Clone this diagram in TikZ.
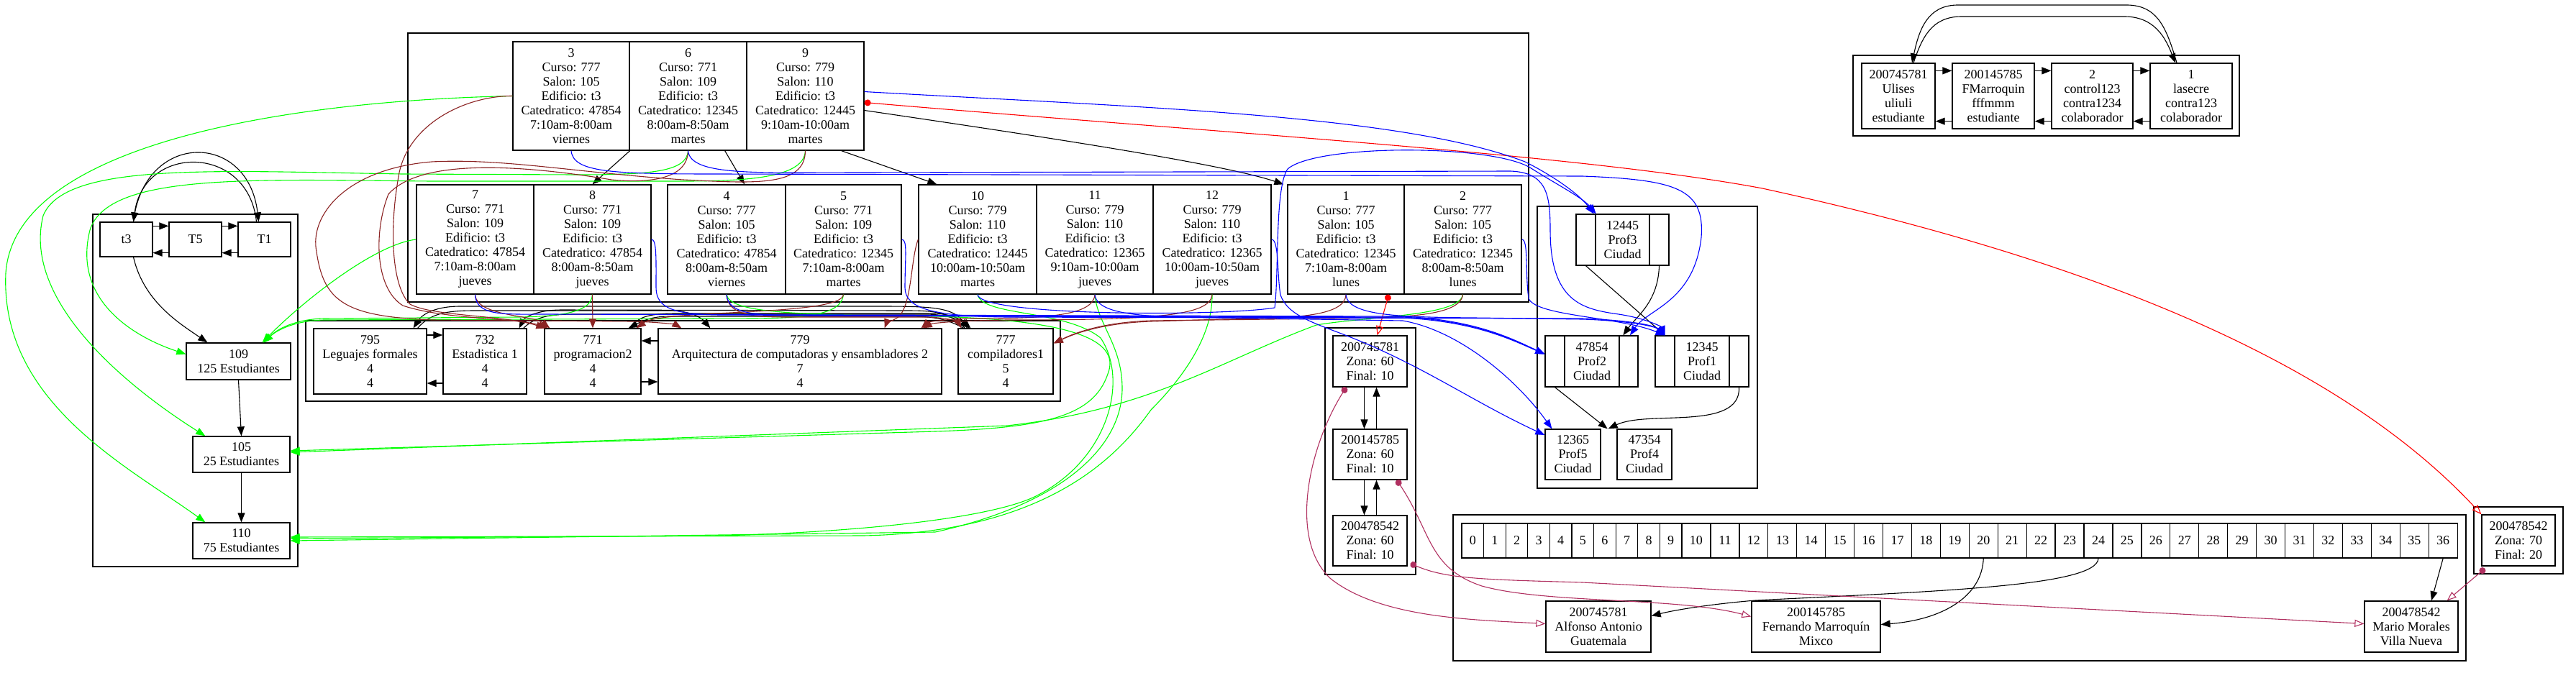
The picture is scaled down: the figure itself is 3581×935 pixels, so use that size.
\documentclass[tikz,border=0pt]{standalone}
\usepackage{fontspec}
\setmainfont{Liberation Serif}
\usetikzlibrary{arrows.meta,calc}
\definecolor{gG}{HTML}{00FF00}
\definecolor{bR}{HTML}{8B2323}
\definecolor{mR}{HTML}{B03060}
\newcommand\nodefont{\fontsize{18}{20}\selectfont}
\newcommand\mybox[6]{\node[box, minimum width={(#4)-(#2)}, minimum height={(#5)-(#3)}] (#1) at ({((#2)+(#4))/2},{((#3)+(#5))/2}) {#6};}
\tikzset{
  box/.style={draw, line width=1.3pt, rectangle, inner sep=0pt, align=center, font=\nodefont},
  clus/.style={draw, line width=1.1pt},
  edgebase/.style={line width=1.1pt},
  blk/.style={edgebase, black, -{Triangle[length=13pt,width=10pt]}},
  grnE/.style={edgebase, gG, -{Triangle[length=13pt,width=10pt]}},
  brnE/.style={edgebase, bR, -{Triangle[length=13pt,width=10pt]}},
  bluE/.style={edgebase, blue, -{Triangle[length=13pt,width=10pt]}},
  redE/.style={edgebase, red, {Circle[length=9pt]}-{Triangle[open,length=13pt,width=10pt]}},
  marE/.style={edgebase, mR, {Circle[length=9pt]}-{Triangle[open,length=13pt,width=10pt]}},
}
\begin{document}
\begin{tikzpicture}[x=1pt,y=-1pt]
\useasboundingbox (0,0) rectangle (3581,935);
% clusters
\draw[clus] (567,46) rectangle (2125,420);
\draw[clus] (425,446) rectangle (1474,558);
\draw[clus] (129,298) rectangle (414,788);
\draw[clus] (2137,287) rectangle (2443,679);
\draw[clus] (1842,456) rectangle (1968,799);
\draw[clus] (2576,77) rectangle (3113,189);
\draw[clus] (2020,716) rectangle (3428,919);
\draw[clus] (3439,705) rectangle (3563,798);
% schedule records
\mybox{s3}{713}{58}{875}{209}{3\\Curso: 777\\Salon: 105\\Edificio: t3\\Catedratico: 47854\\7:10am-8:00am\\viernes}
\mybox{s6}{875}{58}{1038}{209}{6\\Curso: 771\\Salon: 109\\Edificio: t3\\Catedratico: 12345\\8:00am-8:50am\\martes}
\mybox{s9}{1038}{58}{1201}{209}{9\\Curso: 779\\Salon: 110\\Edificio: t3\\Catedratico: 12445\\9:10am-10:00am\\martes}
\mybox{s7}{579}{257}{742}{409}{7\\Curso: 771\\Salon: 109\\Edificio: t3\\Catedratico: 47854\\7:10am-8:00am\\jueves}
\mybox{s8}{742}{257}{905}{409}{8\\Curso: 771\\Salon: 109\\Edificio: t3\\Catedratico: 47854\\8:00am-8:50am\\jueves}
\mybox{s4}{928}{257}{1092}{409}{4\\Curso: 777\\Salon: 105\\Edificio: t3\\Catedratico: 47854\\8:00am-8:50am\\viernes}
\mybox{s5}{1092}{257}{1253}{409}{5\\Curso: 771\\Salon: 109\\Edificio: t3\\Catedratico: 12345\\7:10am-8:00am\\martes}
\mybox{s10}{1277}{257}{1441}{409}{10\\Curso: 779\\Salon: 110\\Edificio: t3\\Catedratico: 12445\\10:00am-10:50am\\martes}
\mybox{s11}{1441}{257}{1603}{409}{11\\Curso: 779\\Salon: 110\\Edificio: t3\\Catedratico: 12365\\9:10am-10:00am\\jueves}
\mybox{s12}{1603}{257}{1767}{409}{12\\Curso: 779\\Salon: 110\\Edificio: t3\\Catedratico: 12365\\10:00am-10:50am\\jueves}
\mybox{s1}{1790}{257}{1952}{409}{1\\Curso: 777\\Salon: 105\\Edificio: t3\\Catedratico: 12345\\7:10am-8:00am\\lunes}
\mybox{s2}{1952}{257}{2115}{409}{2\\Curso: 777\\Salon: 105\\Edificio: t3\\Catedratico: 12345\\8:00am-8:50am\\lunes}
% courses
\mybox{c795}{436}{457}{593}{548}{795\\Leguajes formales\\4\\4}
\mybox{c732}{616}{457}{732}{548}{732\\Estadistica 1\\4\\4}
\mybox{c771}{757}{457}{891}{548}{771\\programacion2\\4\\4}
\mybox{c779}{915}{457}{1309}{548}{779\\Arquitectura de computadoras y ensambladores 2\\7\\4}
\mybox{c777}{1332}{457}{1464}{548}{777\\compiladores1\\5\\4}
% buildings
\mybox{t3}{139}{309}{212}{357}{t3}
\mybox{T5}{235}{309}{308}{357}{T5}
\mybox{T1}{331}{309}{404}{357}{T1}
\mybox{r109}{259}{477}{404}{528}{109\\125 Estudiantes}
\mybox{r105}{268}{607}{403}{657}{105\\25 Estudiantes}
\mybox{r110}{268}{727}{403}{777}{110\\75 Estudiantes}
% professors
\mybox{pAl}{2191}{298}{2218}{369}{}
\mybox{pA}{2218}{298}{2293}{369}{12445\\Prof3\\Ciudad}
\mybox{pAr}{2293}{298}{2320}{369}{}
\mybox{pBl}{2148}{467}{2175}{538}{}
\mybox{pB}{2175}{467}{2251}{538}{47854\\Prof2\\Ciudad}
\mybox{pBr}{2251}{467}{2277}{538}{}
\mybox{pCl}{2301}{467}{2328}{538}{}
\mybox{pC}{2328}{467}{2404}{538}{12345\\Prof1\\Ciudad}
\mybox{pCr}{2404}{467}{2431}{538}{}
\mybox{pD}{2148}{597}{2225}{667}{12365\\Prof5\\Ciudad}
\mybox{pE}{2248}{597}{2324}{667}{47354\\Prof4\\Ciudad}
% notas
\mybox{n1}{1853}{467}{1956}{538}{200745781\\Zona: 60\\Final: 10}
\mybox{n2}{1853}{597}{1956}{667}{200145785\\Zona: 60\\Final: 10}
\mybox{n3}{1853}{717}{1956}{787}{200478542\\Zona: 60\\Final: 10}
% users
\mybox{u1}{2588}{88}{2690}{179}{200745781\\Ulises\\uliuli\\estudiante}
\mybox{u2}{2714}{88}{2828}{179}{200145785\\FMarroquin\\fffmmm\\estudiante}
\mybox{u3}{2852}{88}{2965}{179}{2\\control123\\contra1234\\colaborador}
\mybox{u4}{2989}{88}{3103}{179}{1\\lasecre\\contra123\\colaborador}
% hash table
\foreach \i in {0,...,9} {
  \pgfmathsetmacro\xa{2032+30.6*\i}
  \pgfmathsetmacro\xb{\xa+30.6}
  \mybox{h\i}{\xa}{728}{\xb}{776}{\i}
}
\foreach \i in {10,...,36} {
  \pgfmathsetmacro\xa{2338+39.93*(\i-10)}
  \pgfmathsetmacro\xb{\xa+39.93}
  \mybox{h\i}{\xa}{728}{\xb}{776}{\i}
}
\mybox{a}{2149}{836}{2295}{907}{200745781\\Alfonso Antonio\\Guatemala}
\mybox{f}{2435}{836}{2614}{907}{200145785\\Fernando Marroquín\\Mixco}
\mybox{m}{3287}{836}{3417}{907}{200478542\\Mario Morales\\Villa Nueva}
\mybox{z}{3450}{716}{3552}{787}{200478542\\Zona: 70\\Final: 20}

% ---------- black edges ----------
\draw[blk] (s3.south east) -- (s8.north);
\draw[blk] ($(s6.south east)+(-31,0)$) -- ($(s4.north)+(25,0)$);
\draw[blk] ($(s9.south east)+(-32,0)$) -- ($(s10.north west)+(26,0)$);
\draw[blk] ($(s9.east)+(0,20)$) .. controls (1450,190) and (1700,228) .. ($(s1.north west)+(-5,0)$);
% courses list
\draw[blk] (c795.east |- 0,466) -- (c732.west |- 0,466);
\draw[blk] (c732.west |- 0,533) -- (c795.east |- 0,533);
\draw[blk] (c779.west |- 0,474) -- (c771.east |- 0,474);
\draw[blk] (c771.east |- 0,531) -- (c779.west |- 0,531);
\draw[blk] ($(c777.north west)+(13,0)$) .. controls (1330,425) and (1300,426) .. (1200,426) -- (640,426) .. controls (600,426) and (585,440) .. ($(c795.north east)+(-19,0)$);
\draw[blk] ($(c795.north east)+(-13,0)$) .. controls (598,436) and (620,432) .. (660,432) -- (930,432) .. controls (960,432) and (975,442) .. ($(c779.north west)+(73,0)$);
\draw[blk] ($(c777.north west)+(10,0)$) .. controls (1320,434) and (1300,432) .. (1260,432) -- (780,431) .. controls (750,431) and (730,440) .. ($(c732.north east)+(-11,0)$);
\draw[blk] ($(c732.north east)+(-5,0)$) .. controls (745,440) and (765,437) .. (800,437) -- (1290,437) .. controls (1320,438) and (1335,446) .. ($(c777.north west)+(16,0)$);
\draw[blk] ($(c771.north east)+(-14,0)$) .. controls (885,440) and (905,436) .. (940,436) -- (1300,436) .. controls (1325,437) and (1338,446) .. ($(c777.north west)+(18,0)$);
\draw[blk] ($(c777.north west)+(8,0)$) .. controls (1310,440) and (1290,440) .. (1250,440) -- (930,440) .. controls (905,440) and (892,447) .. ($(c771.north east)+(-18,0)$);
% buildings
\draw[blk] ($(t3.north east)+(0,6)$) -- ($(T5.north west)+(0,6)$);
\draw[blk] ($(T5.north east)+(0,6)$) -- ($(T1.north west)+(0,6)$);
\draw[blk] ($(T5.south west)+(0,-6)$) -- ($(t3.south east)+(0,-6)$);
\draw[blk] ($(T1.south west)+(0,-6)$) -- ($(T5.south east)+(0,-6)$);
\draw[blk] ($(t3.north)+(10,0)$) .. controls (200,182) and (345,182) .. ($(T1.north)+(-8,0)$);
\draw[blk] ($(T1.north)+(-11,0)$) .. controls (345,200) and (200,200) .. ($(t3.north)+(10,0)$);
\draw[blk] ($(t3.south)+(10,0)$) .. controls (200,420) and (250,450) .. ($(r109.north west)+(30,0)$);
\draw[blk] (r109.south) -- (r105.north);
\draw[blk] (r105.south) -- (r110.north);
% professors
\draw[blk] (pAl.south) -- (pCl.north);
\draw[blk] (pAr.south) .. controls (2305,420) and (2275,440) .. ($(pBr.north west)+(6,0)$);
\draw[blk] (pBl.south) -- ($(pD.north east)+(9,0)$);
\draw[blk] (pCr.south) .. controls (2420,600) and (2290,570) .. ($(pD.north east)+(10,0)$);
% notas
\draw[blk] ($(n1.south)+(-8,0)$) -- ($(n2.north)+(-8,0)$);
\draw[blk] ($(n2.north)+(9,0)$) -- ($(n1.south)+(9,0)$);
\draw[blk] ($(n2.south)+(-8,0)$) -- ($(n3.north)+(-8,0)$);
\draw[blk] ($(n3.north)+(9,0)$) -- ($(n2.south)+(9,0)$);
% users
\draw[blk] ($(u1.north east)+(0,11)$) -- ($(u2.north west)+(0,11)$);
\draw[blk] ($(u2.north east)+(0,11)$) -- ($(u3.north west)+(0,11)$);
\draw[blk] ($(u3.north east)+(0,11)$) -- ($(u4.north west)+(0,11)$);
\draw[blk] ($(u2.south west)+(0,-11)$) -- ($(u1.south east)+(0,-11)$);
\draw[blk] ($(u3.south west)+(0,-11)$) -- ($(u2.south east)+(0,-11)$);
\draw[blk] ($(u4.south west)+(0,-11)$) -- ($(u3.south east)+(0,-11)$);
\draw[blk] ($(u4.north)+(-20,0)$) .. controls (3012,40) and (3000,8) .. (2958,7) -- (2720,7) .. controls (2680,8) and (2668,40) .. ($(u1.north)+(19,0)$);
\draw[blk] ($(u1.north)+(21,0)$) .. controls (2672,52) and (2685,24) .. (2725,23) -- (2955,23) .. controls (2995,24) and (3010,52) .. ($(u4.north)+(-22,0)$);
% hash
\draw[blk] (h20.south) .. controls (2755,830) and (2700,862) .. ($(f.east)+(0,-3)$);
\draw[blk] (h24.south) .. controls (2915,815) and (2700,822) .. (2440,835) .. controls (2380,840) and (2330,848) .. ($(a.east)+(0,-15)$);
\draw[blk] (h36.south) -- ($(m.north)+(28,0)$);

% ---------- red / maroon ----------
\draw[redE] ($(s9.east)+(0,9)$) .. controls (1700,185) and (2200,215) .. (2450,262) .. controls (2900,360) and (3250,500) .. (z.north west);
\draw[redE] ($(s1.south east)+(-22,0)$) -- ($(n1.north)+(10,0)$);
\draw[marE] ($(n1.south west)+(19,0)$) .. controls (1820,620) and (1790,750) .. (1850,805) .. controls (1920,860) and (2050,862) .. ($(a.west)+(0,-4)$);
\draw[marE] ($(n2.south east)+(-15,0)$) .. controls (1990,740) and (1985,790) .. (2060,815) .. controls (2150,840) and (2330,830) .. ($(f.west)+(0,-14)$);
\draw[marE] ($(n3.south east)+(4,-4)$) .. controls (2010,805) and (2060,806) .. (2200,810) -- ($(m.west)+(0,-4)$);
\draw[marE] ($(z.south west)+(5,3)$) -- ($(m.north east)+(-16,0)$);

% ---------- green (salon) ----------
\draw[grnE] (s3.west) .. controls (400,140) and (20,200) .. (8,380) .. controls (0,560) and (180,650) .. ($(r110.north west)+(18,0)$);
\draw[grnE] (s6.south) .. controls (955,240) and (900,243) .. (800,243) -- (560,242) .. controls (300,238) and (90,225) .. (60,300) .. controls (30,420) and (180,540) .. ($(r105.north west)+(18,0)$);
\draw[grnE] (s9.south) .. controls (1118,245) and (1050,252) .. (950,252) -- (600,252) .. controls (350,250) and (150,240) .. (125,320) .. controls (100,420) and (190,470) .. ($(r109.west)+(0,-10)$);
\draw[grnE] (s7.west) .. controls (520,340) and (420,420) .. ($(r109.north east)+(-40,0)$);
\draw[grnE] (s8.south) .. controls (822,432) and (790,440) .. (720,441) -- (450,443) .. controls (410,444) and (385,458) .. ($(r109.north east)+(-38,0)$);
\draw[grnE] (s5.south) .. controls (1170,438) and (1120,442) .. (1050,443) -- (450,445) .. controls (410,446) and (385,459) .. ($(r109.north east)+(-38,0)$);
\draw[grnE] (s2.south) .. controls (2030,440) and (1900,440) .. (1830,452) .. controls (1700,500) and (1600,570) .. (1400,592) -- ($(r105.east)+(0,-3)$);
\draw[grnE] (s4.south) .. controls (1015,435) and (1100,438) .. (1300,440) .. controls (1480,445) and (1560,470) .. (1540,520) .. controls (1520,580) and (1450,595) .. (1300,600) -- ($(r105.east)+(0,-5)$);
\draw[grnE] (s10.south) .. controls (1365,440) and (1480,430) .. (1530,470) .. controls (1570,530) and (1540,640) .. (1440,690) .. controls (1380,720) and (1200,740) .. (1000,745) -- ($(r110.east)+(0,-3)$);
\draw[grnE] (s11.south) .. controls (1525,450) and (1560,480) .. (1560,540) .. controls (1560,620) and (1480,700) .. (1300,740) -- (r110.east);
\draw[grnE] (s12.south) .. controls (1686,470) and (1640,530) .. (1600,570) .. controls (1550,640) and (1450,740) .. (1200,745) -- ($(r110.east)+(0,-5)$);

% ---------- brown (curso) ----------
\draw[brnE] (s3.west) .. controls (650,133) and (570,170) .. (555,240) .. controls (540,320) and (545,400) .. (570,423) .. controls (600,440) and (700,438) .. ($(c771.north west)+(2,0)$);
\draw[brnE] (s6.south) .. controls (956,250) and (900,255) .. (850,250) .. controls (700,225) and (580,225) .. (540,270) .. controls (520,320) and (520,400) .. (560,425) .. controls (620,445) and (720,442) .. ($(c771.north west)+(5,0)$);
\draw[brnE] (s9.south) .. controls (1119,260) and (1050,255) .. (950,250) .. controls (800,240) and (700,220) .. (600,225) .. controls (480,235) and (430,300) .. (440,350) .. controls (450,420) and (480,440) .. (600,445) -- (880,447) .. controls (920,448) and (940,452) .. ($(c779.north west)+(33,0)$);
\draw[brnE] (s7.south) .. controls (662,440) and (740,438) .. ($(c771.north west)+(8,0)$);
\draw[brnE] (s8.south) -- (c771.north);
\draw[brnE] (s5.south) .. controls (1170,440) and (920,430) .. ($(c771.north east)+(-7,0)$);
\draw[brnE] (s4.south) .. controls (1012,440) and (1050,441) .. (1100,441) -- (1290,441) .. controls (1320,442) and (1332,448) .. ($(c777.north west)+(5,0)$);
\draw[brnE] (s10.west) .. controls (1266,360) and (1268,420) .. (1250,440) .. controls (1240,447) and (1232,450) .. ($(c779.north east)+(-80,0)$);
\draw[brnE] (s11.south) .. controls (1520,440) and (1450,443) .. (1350,443) .. controls (1310,444) and (1290,448) .. ($(c779.north east)+(-29,0)$);
\draw[brnE] (s12.south) .. controls (1683,440) and (1600,445) .. (1400,445) .. controls (1320,446) and (1295,450) .. ($(c779.north east)+(-27,0)$);
\draw[brnE] (s2.south) .. controls (2030,440) and (1950,442) .. (1850,443) -- (1600,446) .. controls (1540,448) and (1500,460) .. ($(c777.east)+(0,-25)$);
\draw[brnE] (s1.south) .. controls (1870,440) and (1800,443) .. (1700,444) -- (1600,447) .. controls (1540,449) and (1500,461) .. ($(c777.east)+(0,-25)$);

% ---------- blue (catedratico) ----------
\draw[bluE] ($(s9.east)+(0,-6)$) .. controls (1600,150) and (1950,160) .. (2120,225) .. controls (2160,245) and (2195,270) .. ($(pAl.north east)+(-3,0)$);
\draw[bluE] (s10.south) .. controls (1362,440) and (1700,440) .. (1772,428) .. controls (1778,380) and (1772,260) .. (1790,235) .. controls (1830,200) and (2080,200) .. (2130,235) .. controls (2170,260) and (2200,275) .. (pAl.north east);
\draw[bluE] (s3.south) .. controls (797,240) and (850,242) .. (1000,242) -- (2200,245) .. controls (2330,250) and (2370,262) .. (2365,330) .. controls (2355,420) and (2290,430) .. ($(pBr.north)+(2,0)$);
\draw[bluE] (s6.south) .. controls (960,245) and (1050,240) .. (1200,240) -- (2100,238) .. controls (2150,240) and (2155,270) .. (2155,320) .. controls (2155,420) and (2200,430) .. (2250,437) .. controls (2290,443) and (2310,455) .. (pCl.north);
\draw[bluE] (s7.south) .. controls (662,440) and (700,437) .. (760,437) -- (1950,440) .. controls (2050,445) and (2100,470) .. ($(pBl.west)+(0,-10)$);
\draw[bluE] (s8.east) .. controls (913,333) and (912,360) .. (912,400) .. controls (912,430) and (940,437) .. (1000,438) -- (1950,441) .. controls (2050,446) and (2100,471) .. ($(pBl.west)+(0,-10)$);
\draw[bluE] (s4.south) .. controls (1012,440) and (1060,438) .. (1120,439) -- (1950,442) .. controls (2050,447) and (2100,472) .. ($(pBl.west)+(0,-10)$);
\draw[bluE] (s5.east) .. controls (1262,333) and (1258,360) .. (1258,400) .. controls (1258,430) and (1300,440) .. (1400,441) -- (2200,443) .. controls (2260,445) and (2300,452) .. (pCl.north);
\draw[bluE] (s1.south) .. controls (1873,440) and (1950,441) .. (2050,442) -- (2200,444) .. controls (2260,446) and (2300,453) .. (pCl.north);
\draw[bluE] (s2.east) .. controls (2125,333) and (2120,380) .. (2125,415) .. controls (2135,440) and (2250,440) .. (pCl.north);
\draw[bluE] (s11.south) .. controls (1525,440) and (1600,441) .. (1700,442) -- (1950,446) .. controls (2030,460) and (2110,530) .. ($(pD.north west)+(10,0)$);
\draw[bluE] (s12.east) .. controls (1778,333) and (1775,380) .. (1780,410) .. controls (1790,440) and (1830,450) .. (1880,470) .. controls (1980,510) and (2050,560) .. ($(pD.west)+(0,-27)$);
\end{tikzpicture}
\end{document}
